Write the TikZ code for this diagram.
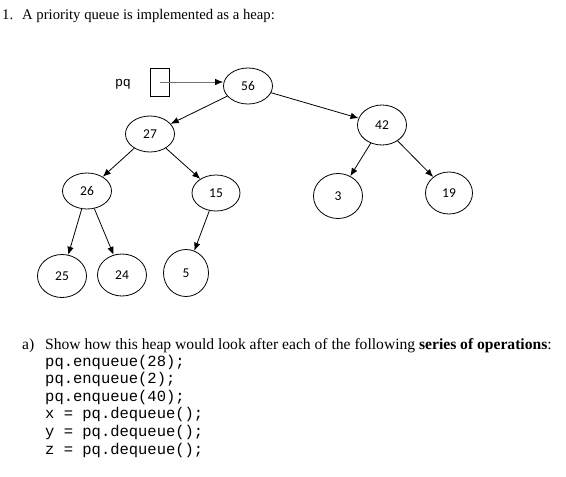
\documentclass[tikz,border=0pt]{standalone}
\usepackage{fontspec}
\setmainfont{Liberation Serif}
\setmonofont{Liberation Mono}
\newfontfamily\keyfont{Carlito}
\usetikzlibrary{shapes.geometric,arrows.meta,positioning}
\newcommand{\keyw}{49pt}
\newcommand{\codeskip}{17.6}
\tikzset{
    keysty/.style={draw,ellipse,line width=0.8pt,minimum width=\keyw,minimum height=36pt,inner sep=0pt,font=\keyfont\fontsize{13.5}{14}\selectfont},
    ptrsty/.style={draw,rectangle,line width=0.8pt,minimum width=19pt,minimum height=28pt,inner sep=0pt},
    linksty/.style={->,line width=0.8pt},
    bodysty/.style={anchor=base west,inner sep=0pt,font=\fontsize{14.7}{17}\selectfont},
    codesty/.style={anchor=base west,inner sep=0pt,font=\ttfamily\fontsize{15.5}{17.6}\selectfont},
}

\begin{document}
\begin{tikzpicture}[>={Latex[length=8pt,width=6.5pt]},x=1pt,y=-1pt]
  \useasboundingbox (0,0) rectangle (566,477);

  % question text
  \node[bodysty] (qnum) at (2,19) {1.};
  \node[bodysty] (qtext) at (22,19) {A priority queue is implemented as a heap:};

  % pointer
  \node[anchor=center,inner sep=0pt,font=\ttfamily\fontsize{13.3}{14}\selectfont] (pqname) at (123,84) {pq};
  \node[ptrsty] (pqbox) at (160,82) {};

  % heap
  \node[keysty] (k56) at (248,86) {56};
  \node[keysty] (k27) at (150,134) {27};
  \node[keysty,minimum height=40pt] (k42) at (382,125) {42};
  \node[keysty] (k26) at (87,191) {26};
  \node[keysty,minimum width=48pt] (k15) at (216,193) {15};
  \node[keysty,minimum height=45pt] (k3) at (338,196) {3};
  \node[keysty,minimum width=47pt,minimum height=42pt] (k19) at (449,193) {19};
  \node[keysty,minimum height=43pt] (k25) at (62,276) {25};
  \node[keysty,minimum height=42pt] (k24) at (122,275) {24};
  \node[keysty,minimum width=45pt,minimum height=47pt] (k5) at (186,273) {5};

  \draw[line width=0.8pt,draw=black!55,-{Latex[length=8pt,width=6.5pt,color=black]}] (pqbox.center) -- (pqbox.center -| k56.west);
  \draw[linksty] (k56) -- (k27);
  \draw[linksty] (k56) -- (k42);
  \draw[linksty] (k27) -- (k26);
  \draw[linksty] (k27) -- (k15);
  \draw[linksty] (k42) -- (k3);
  \draw[linksty] (k42) -- (k19);
  \draw[linksty] (k26) -- (k25);
  \draw[linksty] (k26) -- (k24);
  \draw[linksty] (k15) -- (k5);

  % part a
  \node[bodysty,font=\fontsize{15.6}{17}\selectfont] (anum) at (22,349) {a)};
  \node[bodysty,font=\fontsize{15.6}{17}\selectfont] (atext) at (45,349) {Show how this heap would look after each of the following \textbf{series of operations}:};
  \node[codesty] (op1) at (45,366) {pq.enqueue(28);};
  \node[codesty] (op2) at (45,366+\codeskip) {pq.enqueue(2);};
  \node[codesty] (op3) at (45,366+2*\codeskip) {pq.enqueue(40);};
  \node[codesty] (op4) at (45,366+3*\codeskip) {x = pq.dequeue();};
  \node[codesty] (op5) at (45,366+4*\codeskip) {y = pq.dequeue();};
  \node[codesty] (op6) at (45,366+5*\codeskip) {z = pq.dequeue();};
\end{tikzpicture}
\end{document}
